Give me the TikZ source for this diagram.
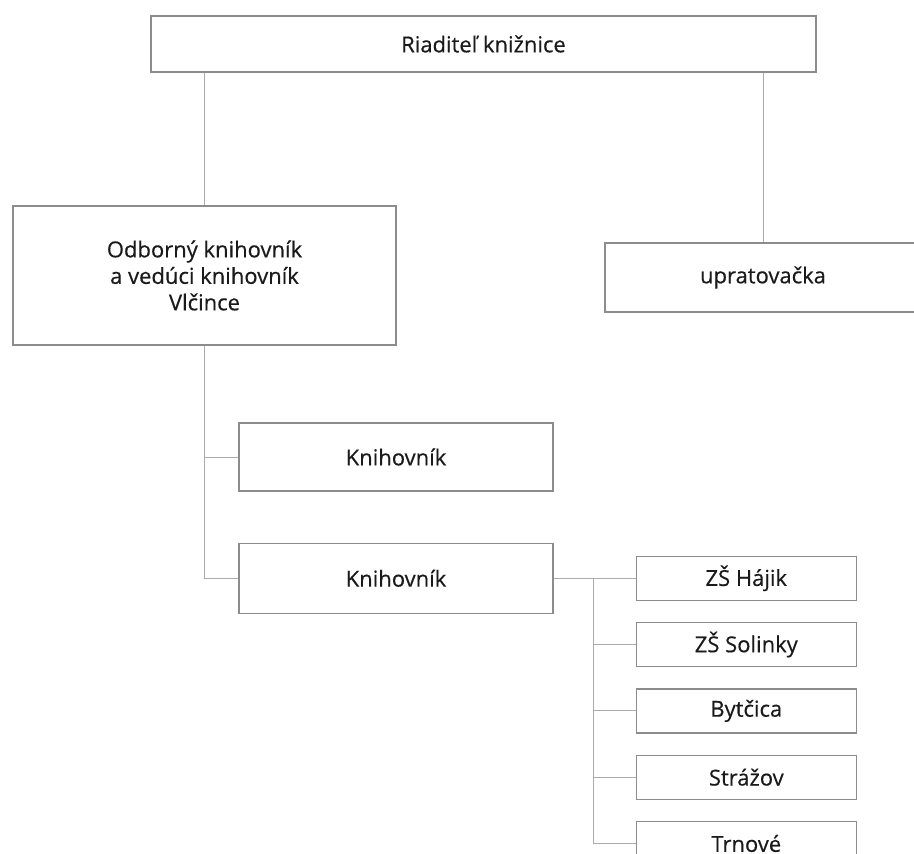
\documentclass[tikz,border=0pt]{standalone}
\usepackage{fontspec}
\setmainfont{Open Sans}[FakeBold=0.4]
\usetikzlibrary{positioning}
\definecolor{boxline}{HTML}{8C8C8C}
\definecolor{linkline}{HTML}{ABABAB}
\definecolor{label}{HTML}{1A1A1A}
\tikzset{
  orgbox/.style={draw=boxline, line width=1.3pt, text=label, align=center, inner sep=0pt,
    font=\fontsize{22}{26.5}\selectfont},
  placebox/.style={orgbox, minimum width=220pt, minimum height=44pt},
  link/.style={draw=linkline, line width=1pt}
}

\begin{document}
\begin{tikzpicture}[x=1pt, y=1pt]
  \fill[white] (0,0) rectangle (914,-854);
  \useasboundingbox (0,0) rectangle (914,-854);

  \node[orgbox, minimum width=665pt, minimum height=56pt] (director) at (483.5,-44) {Riaditeľ knižnice};
  \node[orgbox, minimum width=383pt, minimum height=139pt] (expert) at (204.5,-275.5) {Odborný knihovník\\a vedúci knihovník\\Vlčince};
  \node[orgbox, minimum width=316pt, minimum height=69pt] (cleaner) at (763,-277.5) {upratovačka};

  \node[orgbox, minimum width=314pt, minimum height=68pt] (lib1) at (396,-457) {Knihovník};
  \node[orgbox, minimum width=314pt, minimum height=70pt, below=51pt of lib1] (lib2) {Knihovník};

  % pobočky
  \node[placebox, right=82pt of lib2] (hajik) {ZŠ Hájik};
  \node[placebox, below=21pt of hajik] (solinky) {ZŠ Solinky};
  \node[placebox, below=21pt of solinky] (bytcica) {Bytčica};
  \node[placebox, below=21pt of bytcica] (strazov) {Strážov};
  \node[placebox, below=21pt of strazov] (trnove) {Trnové};
  \coordinate[left=42pt of hajik.west] (bus);

  \draw[link] (expert.north) -- (expert.north |- director.south);
  \draw[link] (cleaner.north) -- (cleaner.north |- director.south);

  \draw[link] (expert.south) |- (lib2.west);
  \draw[link] (lib1.west) -- (lib1.west -| expert.south);

  \draw[link] (lib2.east) -- (hajik.west);
  \foreach \p in {solinky,bytcica,strazov,trnove}
    \draw[link] (bus) |- (\p.west);
\end{tikzpicture}
\end{document}
